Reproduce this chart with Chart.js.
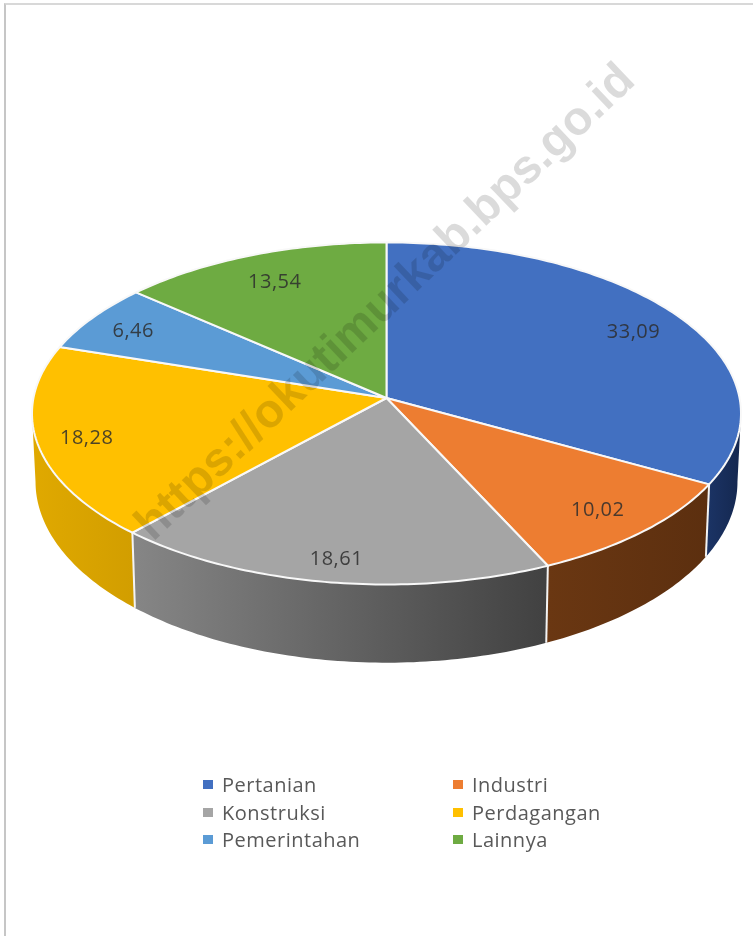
<!DOCTYPE html>
<html>
<head>
<meta charset="utf-8">
<script src="https://cdn.jsdelivr.net/npm/chart.js@4"></script>
<style>
    html, body { margin: 0; padding: 0; background: #fff; }
    #frame { position: absolute; left: 4px; top: 3px; width: 749px; height: 933px; border-left: 2px solid #c6c6c6; border-top: 2px solid #d8d8d8; box-sizing: border-box; }
    canvas { position: absolute; left: 0; top: 0; filter: blur(0.5px); }
    #legend { position: absolute; left: 203px; top: 771px; display: grid; grid-template-columns: 250px 200px; grid-auto-rows: 27.5px; font: 20px "Open Sans", sans-serif; letter-spacing: 0.5px; color: #595959; filter: blur(0.4px); }
    #legend div { display: flex; align-items: center; white-space: nowrap; }
    #legend i { width: 10px; height: 9px; margin-right: 9px; }
</style>
</head>
<body>
<div id="frame"></div>
<canvas id="chart" width="753" height="936"></canvas>
<div id="legend"></div>
<script>
const categories = ['Pertanian', 'Industri', 'Konstruksi', 'Perdagangan', 'Pemerintahan', 'Lainnya'];
const shares = [33.09, 10.02, 18.61, 18.28, 6.46, 13.54];
const shareLabels = ['33,09', '10,02', '18,61', '18,28', '6,46', '13,54'];

const topColors = ['#4270C1', '#ED7D31', '#A5A5A5', '#FFC000', '#5B9BD5', '#6EAB42'];
// side wall colours, left and right end of each slice
const sideColors = [
    ['#1b3364', '#14274f'],
    ['#6a3712', '#5c2f0f'],
    ['#868686', '#414141'],
    ['#e0a900', '#d29e00'],
    ['#3a6fa5', '#3a6fa5'],
    ['#4a7a2e', '#4a7a2e']
];
// small label shifts from the default spot, in px
const labelShift = [[-2, 2], [-5, -3], [-1, 4], [-4, -1], [-2, -1], [4, 4]];
const watermark = 'https://okutimurkab.bps.go.id';

// Perspective of the tilted disc, as fractions of the library's outer radius
const persp = 0.0904;
const topX = 0.9959, topY = 0.4785;
const lowX = 0.986, lowY = 0.5063, lowDrop = 0.19;

// Angle on the disc (from chart.js arc angle) to screen position
function project(arc, angle, frac, lower) {
    const u = Math.cos(angle) * frac;
    const v = Math.sin(angle) * frac;
    const d = 1 - persp * v;
    const r = arc.outerRadius;
    return {
        x: arc.x + r * (lower ? lowX : topX) * u / d,
        y: arc.y + r * (lower ? lowDrop : 0) + r * (lower ? lowY : topY) * v / d
    };
}

function tracePoints(ctx, arc, from, to, lower) {
    const steps = Math.max(2, Math.ceil(Math.abs(to - from) * 60));
    for (let i = 0; i <= steps; i++) {
        const p = project(arc, from + (to - from) * i / steps, 1, lower);
        ctx.lineTo(p.x, p.y);
    }
}

// Top face of each slice: angles still come from the doughnut controller
Chart.ArcElement.prototype.draw = function (ctx) {
    const o = this.options;
    ctx.save();
    ctx.beginPath();
    ctx.moveTo(this.x, this.y);
    tracePoints(ctx, this, this.startAngle, this.endAngle, false);
    ctx.closePath();
    ctx.fillStyle = o.backgroundColor;
    ctx.fill();
    ctx.lineJoin = 'round';
    ctx.strokeStyle = o.borderColor;
    ctx.lineWidth = o.borderWidth;
    ctx.stroke();
    ctx.restore();
};

const sideWalls = {
    id: 'sideWalls',
    beforeDatasetsDraw(chart) {
        const ctx = chart.ctx;
        const arcs = chart.getDatasetMeta(0).data;
        // front part of the rim, between the two widest points
        const front0 = Math.asin(persp);
        const front1 = Math.PI - front0;
        arcs.forEach((arc, i) => {
            const from = Math.max(arc.startAngle, front0);
            const to = Math.min(arc.endAngle, front1);
            if (to <= from) return;
            const a = project(arc, from, 1, false);
            const b = project(arc, to, 1, false);
            const grad = ctx.createLinearGradient(Math.min(a.x, b.x), 0, Math.max(a.x, b.x), 0);
            grad.addColorStop(0, sideColors[i][0]);
            grad.addColorStop(1, sideColors[i][1]);
            ctx.save();
            ctx.beginPath();
            const start = project(arc, from, 1, false);
            ctx.moveTo(start.x, start.y);
            tracePoints(ctx, arc, from, to, false);
            tracePoints(ctx, arc, to, from, true);
            ctx.closePath();
            ctx.fillStyle = grad;
            ctx.fill();
            ctx.restore();
        });
        // white seams where slices meet on the wall
        arcs.forEach(arc => {
            if (arc.startAngle <= front0 || arc.startAngle >= front1) return;
            const p = project(arc, arc.startAngle, 1, false);
            const q = project(arc, arc.startAngle, 1, true);
            ctx.save();
            ctx.strokeStyle = '#f4f4f4';
            ctx.lineWidth = 2;
            ctx.beginPath();
            ctx.moveTo(p.x, p.y);
            ctx.lineTo(q.x, q.y);
            ctx.stroke();
            ctx.restore();
        });
    },
    afterDatasetsDraw(chart) {
        const ctx = chart.ctx;
        const arcs = chart.getDatasetMeta(0).data;
        ctx.save();
        ctx.font = '20px "Open Sans", sans-serif';
        ctx.letterSpacing = '0.5px';
        ctx.textAlign = 'center';
        ctx.textBaseline = 'middle';
        ctx.fillStyle = 'rgba(45,45,45,0.85)';
        arcs.forEach((arc, i) => {
            const p = project(arc, (arc.startAngle + arc.endAngle) / 2, 0.85, false);
            ctx.fillText(shareLabels[i], p.x + labelShift[i][0], p.y + 3 + labelShift[i][1]);
        });
        ctx.restore();
    },
    afterDraw(chart) {
        const ctx = chart.ctx;
        ctx.save();
        ctx.translate(386, 303);
        ctx.rotate(-43.5 * Math.PI / 180);
        ctx.font = 'bold 47.5px "Liberation Sans", sans-serif';
        ctx.textAlign = 'center';
        ctx.textBaseline = 'middle';
        ctx.fillStyle = 'rgba(0,0,0,0.14)';
        ctx.fillText(watermark, 0, 0);
        ctx.restore();
    }
};

const chart = new Chart(document.getElementById('chart'), {
    type: 'pie',
    data: {
        labels: categories,
        datasets: [{
            data: shares,
            backgroundColor: topColors,
            borderColor: '#f8f8f8',
            borderWidth: 2
        }]
    },
    options: {
        responsive: false,
        animation: false,
        layout: { padding: { left: 31, right: 11, top: 42, bottom: 182 } },
        plugins: {
            legend: { display: false },
            tooltip: { enabled: false }
        }
    },
    plugins: [sideWalls]
});

// Two column legend
const legendBox = document.getElementById('legend');
chart.data.labels.forEach((label, i) => {
    const row = document.createElement('div');
    const swatch = document.createElement('i');
    swatch.style.background = topColors[i];
    row.appendChild(swatch);
    row.appendChild(document.createTextNode(label));
    legendBox.appendChild(row);
});
</script>
</body>
</html>
